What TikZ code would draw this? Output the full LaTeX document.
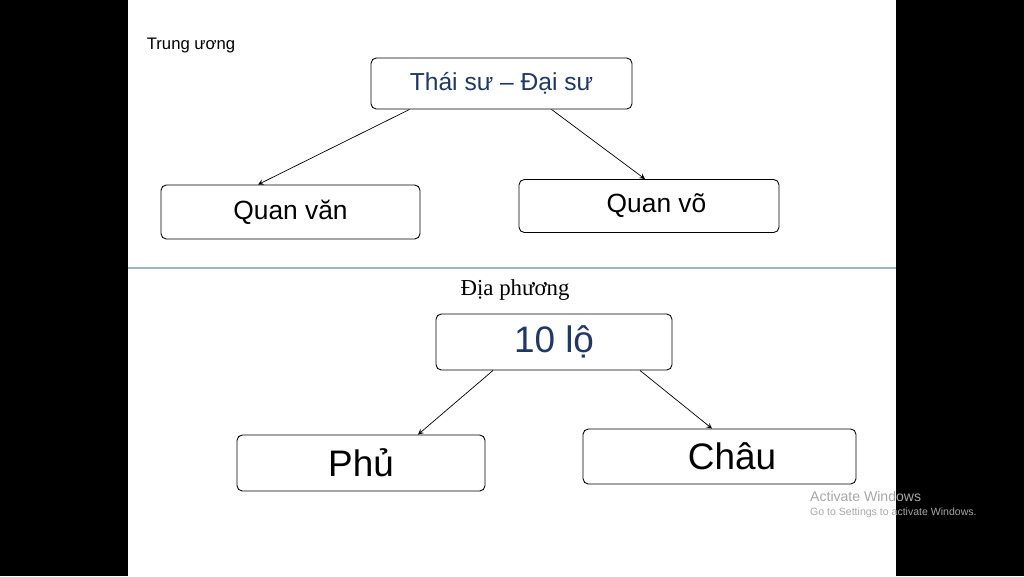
\documentclass[tikz,border=0pt]{standalone}
\usepackage{fontspec}
\setmainfont{Liberation Sans}
\newfontfamily\serifvn{Liberation Serif}
\usepackage{tikz}

\begin{document}
\begin{tikzpicture}[x=0.02cm,y=-0.02cm,
    box/.style={draw,rounded corners=3pt,inner sep=0pt,line width=0.5pt},
    arr/.style={->,>=stealth,line width=0.4pt}]

\useasboundingbox (0,0) rectangle (1024,576);
\fill[black] (0,0) rectangle (128,576);
\fill[black] (896,0) rectangle (1024,576);
\draw[color={rgb,255:red,160;green,180;blue,195},line width=0.8pt] (128,268) -- (896,268);

% central level
\node[font=\fontsize{9.5}{11}\selectfont] (tw) at (191,45) {Trung ương};
\node[box,minimum width=5.22cm,minimum height=1.02cm,text={rgb,255:red,31;green,56;blue,100},
  font=\fontsize{14}{16}\selectfont] (top) at (501.5,83.5) {Thái sư -- Đại sư};
\node[box,minimum width=5.18cm,minimum height=1.08cm,font=\fontsize{15}{17}\selectfont] (van) at (290.5,212) {Quan văn};
\node[box,minimum width=5.2cm,minimum height=1.06cm,font=\fontsize{15}{17}\selectfont] (vo) at (649,206) {\hspace{0.3cm}Quan võ};

% local level
\node[font=\serifvn\fontsize{13}{15}\selectfont] (dp) at (515,290) {Địa phương};
\node[box,minimum width=4.72cm,minimum height=1.12cm,text={rgb,255:red,31;green,56;blue,100},
  font=\fontsize{21}{24}\selectfont] (lo) at (554,342) {10 lộ};
\node[box,minimum width=4.96cm,minimum height=1.12cm,font=\fontsize{21}{24}\selectfont] (phu) at (361,463) {Phủ};
\node[box,minimum width=5.46cm,minimum height=1.1cm,font=\fontsize{21}{24}\selectfont] (chau) at (719.5,456.5) {\hspace{0.5cm}Châu};

% arrows
\draw[arr] ([xshift=-1.84cm]top.south) -- ([xshift=-0.65cm]van.north);
\draw[arr] ([xshift=1cm]top.south) -- ([xshift=-0.08cm]vo.north);
\draw[arr] ([xshift=-1.22cm]lo.south) -- ([xshift=1.14cm]phu.north);
\draw[arr] ([xshift=1.72cm]lo.south) -- ([xshift=-0.15cm]chau.north);

% watermark
\node[anchor=west,text=gray!70,font=\fontsize{8}{9}\selectfont] (aw) at (804,496) {Activate Windows};
\node[anchor=west,text=gray!70,font=\fontsize{6}{7}\selectfont] (gs) at (804,513) {Go to Settings to activate Windows.};

\end{tikzpicture}
\end{document}
